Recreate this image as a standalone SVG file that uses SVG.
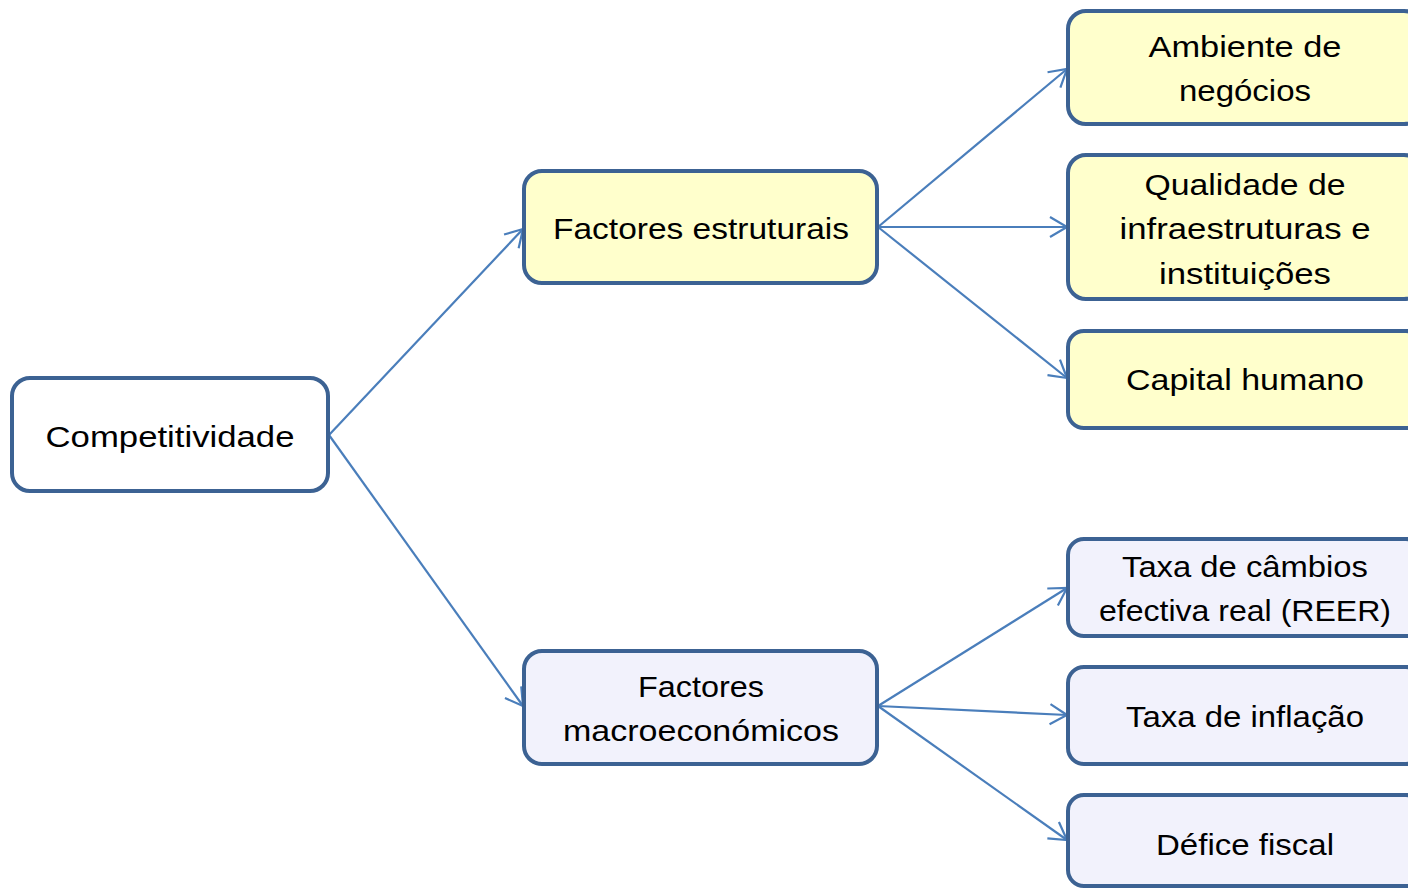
<svg xmlns="http://www.w3.org/2000/svg" width="1408" height="889" viewBox="0 0 1408 889">
<defs>
<marker id="arr" markerUnits="userSpaceOnUse" markerWidth="24" markerHeight="24" viewBox="-20 -12 24 24" refX="0" refY="0" orient="auto">
<path d="M-17,-10 L0,0 L-17,10" fill="none" stroke="#4a7ebb" stroke-width="2.2"/>
</marker>
</defs>
<style>
.box{stroke:#3c6293;stroke-width:4}
.root{fill:#ffffff}
.yel{fill:#ffffcc}
.blu{fill:#f2f2fc}
.t{font-family:"Liberation Sans",Arial,sans-serif;font-size:30px;fill:#000;text-anchor:middle}
.c{stroke:#4a7ebb;stroke-width:2.2;fill:none;marker-end:url(#arr)}
</style>
<rect width="1408" height="889" fill="#ffffff"/>
<g id="connectors">
<line class="c" x1="329" y1="435" x2="523" y2="229"/>
<line class="c" x1="329" y1="435" x2="523" y2="706"/>
<line class="c" x1="878" y1="227" x2="1067" y2="69"/>
<line class="c" x1="878" y1="227" x2="1067" y2="227"/>
<line class="c" x1="878" y1="227" x2="1067" y2="378"/>
<line class="c" x1="878" y1="706" x2="1067" y2="588"/>
<line class="c" x1="878" y1="706" x2="1067" y2="715"/>
<line class="c" x1="878" y1="706" x2="1067" y2="840"/>
</g>
<g id="competitividade">
<rect class="box root" x="12" y="378" width="316" height="113" rx="18"/>
<text class="t" x="170" y="447" textLength="249" lengthAdjust="spacingAndGlyphs">Competitividade</text>
</g>
<g id="factores-estruturais">
<rect class="box yel" x="524" y="171" width="353" height="112" rx="18"/>
<text class="t" x="701" y="239" textLength="296" lengthAdjust="spacingAndGlyphs">Factores estruturais</text>
</g>
<g id="factores-macro">
<rect class="box blu" x="524" y="651" width="353" height="113" rx="18"/>
<text class="t" x="701" y="697" textLength="126" lengthAdjust="spacingAndGlyphs">Factores</text>
<text class="t" x="701" y="741" textLength="276" lengthAdjust="spacingAndGlyphs">macroeconómicos</text>
</g>
<g id="ambiente">
<rect class="box yel" x="1068" y="11" width="354" height="113" rx="18"/>
<text class="t" x="1245" y="57" textLength="193" lengthAdjust="spacingAndGlyphs">Ambiente de</text>
<text class="t" x="1245" y="101" textLength="132" lengthAdjust="spacingAndGlyphs">negócios</text>
</g>
<g id="qualidade">
<rect class="box yel" x="1068" y="155" width="354" height="144" rx="18"/>
<text class="t" x="1245" y="195" textLength="201" lengthAdjust="spacingAndGlyphs">Qualidade de</text>
<text class="t" x="1245" y="239" textLength="251" lengthAdjust="spacingAndGlyphs">infraestruturas e</text>
<text class="t" x="1245" y="284" textLength="172" lengthAdjust="spacingAndGlyphs">instituições</text>
</g>
<g id="capital">
<rect class="box yel" x="1068" y="331" width="354" height="97" rx="16"/>
<text class="t" x="1245" y="390" textLength="238" lengthAdjust="spacingAndGlyphs">Capital humano</text>
</g>
<g id="cambios">
<rect class="box blu" x="1068" y="539" width="354" height="97" rx="16"/>
<text class="t" x="1245" y="577" textLength="246" lengthAdjust="spacingAndGlyphs">Taxa de câmbios</text>
<text class="t" x="1245" y="621" textLength="292" lengthAdjust="spacingAndGlyphs">efectiva real (REER)</text>
</g>
<g id="inflacao">
<rect class="box blu" x="1068" y="667" width="354" height="97" rx="16"/>
<text class="t" x="1245" y="727" textLength="238" lengthAdjust="spacingAndGlyphs">Taxa de inflação</text>
</g>
<g id="defice">
<rect class="box blu" x="1068" y="795" width="354" height="91" rx="16"/>
<text class="t" x="1245" y="855" textLength="178" lengthAdjust="spacingAndGlyphs">Défice fiscal</text>
</g>
</svg>
